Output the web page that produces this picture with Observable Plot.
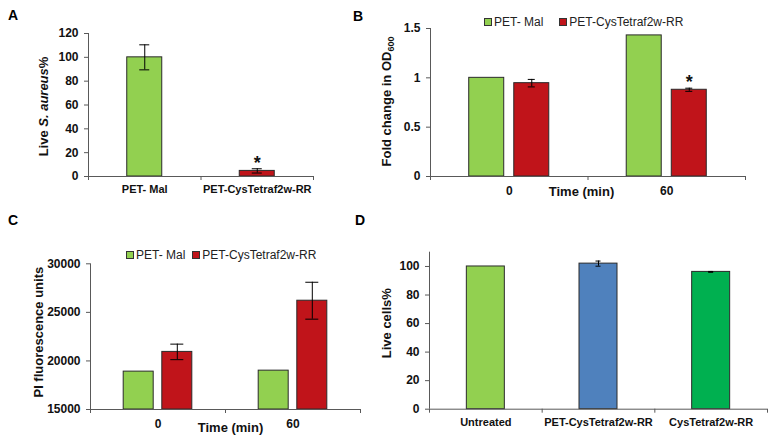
<!DOCTYPE html>
<html><head><meta charset="utf-8">
<script src="https://cdn.jsdelivr.net/npm/d3@7"></script>
<script src="https://cdn.jsdelivr.net/npm/@observablehq/plot@0.6"></script>
<style>
body{margin:0;background:#fff;font-family:"Liberation Sans",Arial,sans-serif;}
#root{position:relative;width:774px;height:446px;overflow:hidden;background:#fff;}
.letter{position:absolute;font-weight:bold;font-size:14px;line-height:14px;}
.legend{position:absolute;font-size:12px;line-height:14px;height:14px;display:flex;align-items:center;white-space:nowrap;color:#222;}
.sw{display:inline-block;width:6px;height:6px;border:1px solid #333;margin-right:2px;}
</style></head><body><div id="root"></div>
<script>
// ---- Panel A data ----
const aCategories = ["PET- Mal", "PET-CysTetraf2w-RR"];
const aValues = [100, 4.7];
const aErrors = [10.5, 1.8];
const aColors = ["#92d050", "#c0141a"];
const aSignificant = [false, true];
const aTicks = [0, 20, 40, 60, 80, 100, 120];

// ---- Shared series (panels B, C) ----
const seriesNames = ["PET- Mal", "PET-CysTetraf2w-RR"];
const seriesColors = ["#92d050", "#c0141a"];
const timeLabels = ["0", "60"];

// ---- Panel B data ----
const bMal = [1.0, 1.43];
const bMalErr = [0, 0];
const bCys = [0.946, 0.879];
const bCysErr = [0.038, 0.016];
const bSignificant = [false, true];
const bTicks = [0, 0.5, 1, 1.5];

// ---- Panel C data ----
const cMal = [18900, 19000];
const cMalErr = [0, 0];
const cCys = [20930, 26200];
const cCysErr = [800, 1900];
const cTicks = [15000, 20000, 25000, 30000];

// ---- Panel D data ----
const dCategories = ["Untreated", "PET-CysTetraf2w-RR", "CysTetraf2w-RR"];
const dValues = [100, 102, 96.2];
const dErrors = [0, 1.8, 0.3];
const dColors = ["#92d050", "#4f81bd", "#00b050"];
const dTicks = [0, 20, 40, 60, 80, 100];

const root = document.getElementById("root");
const AXIS = "#595959";
const OUTLINE = "#2a2a2a";
const baseStyle = {fontFamily: '"Liberation Sans", Arial, sans-serif', fontWeight: "bold", fontSize: "12px", background: "transparent", overflow: "visible", color: "#111"};

function barPanel(cfg) {
  const unit = (cfg.w - cfg.mL - cfg.mR) / cfg.n;
  const bw = cfg.barPx / unit, cap = cfg.capPx / 2 / unit;
  const y0 = cfg.yDomain[0];
  const rows = cfg.rows;
  const errRows = rows.filter(d => d.e > 0);
  const marks = [
    Plot.rectY(rows, {x1: d => d.xc - bw / 2, x2: d => d.xc + bw / 2, y1: () => y0, y2: "v", fill: "color", stroke: OUTLINE, strokeWidth: 1}),
    Plot.ruleX(errRows, {x: "xc", y1: d => d.v - d.e, y2: d => d.v + d.e, stroke: "#000"}),
    Plot.ruleY(errRows, {y: d => d.v - d.e, x1: d => d.xc - cap, x2: d => d.xc + cap, stroke: "#000"}),
    Plot.ruleY(errRows, {y: d => d.v + d.e, x1: d => d.xc - cap, x2: d => d.xc + cap, stroke: "#000"}),
    Plot.text(rows.filter(d => d.sig), {x: "xc", y: d => d.v + d.e, text: () => "*", fontSize: 18, dy: -6}),
    Plot.ruleX([0], {stroke: AXIS}),
    Plot.ruleY([y0], {stroke: AXIS}),
    Plot.axisY({ticks: cfg.yTicks, tickSize: 4, tickPadding: 6, stroke: AXIS, tickFormat: d => String(d), label: null}),
    Plot.axisX({ticks: d3.range(0, cfg.n + 1), tickSize: 4, tickFormat: () => "", stroke: AXIS, label: null}),
    Plot.axisX({ticks: cfg.labels.map((_, i) => i + 0.5), tickSize: 0, tickPadding: cfg.labelPad, fontSize: cfg.labelFont, tickFormat: v => cfg.labels[Math.round(v - 0.5)], label: null}),
    Plot.text([cfg.yLabel], {frameAnchor: "left", textAnchor: "middle", rotate: -90, dx: cfg.yLabelDx, dy: cfg.yLabelDy, fontSize: 13})
  ];
  if (cfg.xTitle) marks.push(Plot.text([cfg.xTitle], {frameAnchor: "bottom", dx: cfg.xTitleDx, dy: cfg.xTitleDy, fontSize: 13}));
  const svg = Plot.plot({
    width: cfg.w, height: cfg.h,
    marginLeft: cfg.mL, marginRight: cfg.mR, marginTop: cfg.mT, marginBottom: cfg.mB,
    style: baseStyle,
    x: {domain: [0, cfg.n], label: null},
    y: {domain: cfg.yDomain, label: null},
    color: {type: "identity"},
    marks
  });
  svg.style.position = "absolute";
  svg.style.left = cfg.left + "px";
  svg.style.top = cfg.top + "px";
  root.appendChild(svg);
  return svg;
}

function groupedRows(mal, malErr, cys, cysErr, sig) {
  return timeLabels.flatMap((t, g) => [
    {g, xc: g + 0.5 - 0.143, v: mal[g], e: malErr[g], color: seriesColors[0], sig: false},
    {g, xc: g + 0.5 + 0.143, v: cys[g], e: cysErr[g], color: seriesColors[1], sig: sig ? sig[g] : false}
  ]);
}

// Panel A
const svgA = barPanel({
  left: 0, top: 0, w: 370, h: 220, mL: 88, mR: 57, mT: 33, mB: 44,
  n: aCategories.length,
  rows: aCategories.map((c, i) => ({xc: i + 0.5, v: aValues[i], e: aErrors[i], color: aColors[i], sig: aSignificant[i]})),
  yDomain: [0, 120], yTicks: aTicks, barPx: 35, capPx: 10,
  labels: aCategories, labelPad: 9, labelFont: 11,
  yLabel: "Live S. aureus%", yLabelDx: -45, yLabelDy: 1.5
});

// Panel B
const svgB = barPanel({
  left: 370, top: 0, w: 404, h: 220, mL: 60, mR: 29, mT: 28, mB: 44,
  n: timeLabels.length,
  rows: groupedRows(bMal, bMalErr, bCys, bCysErr, bSignificant),
  yDomain: [0, 1.5], yTicks: bTicks, barPx: 35, capPx: 7,
  labels: timeLabels, labelPad: 10, labelFont: 12,
  yLabel: "Fold change in OD600", yLabelDx: -43.3, yLabelDy: -1,
  xTitle: "Time (min)", xTitleDx: -6.5, xTitleDy: 19
});

// Panel C
const svgC = barPanel({
  left: 0, top: 220, w: 370, h: 226, mL: 90, mR: 10, mT: 43.3, mB: 37,
  n: timeLabels.length,
  rows: groupedRows(cMal, cMalErr, cCys, cCysErr, null),
  yDomain: [15000, 30000], yTicks: cTicks, barPx: 30, capPx: 13,
  labels: timeLabels, labelPad: 10, labelFont: 12,
  yLabel: "PI fluorescence units", yLabelDx: -52, yLabelDy: -4.5,
  xTitle: "Time (min)", xTitleDx: 5, xTitleDy: 22
});

// Panel D
const svgD = barPanel({
  left: 370, top: 220, w: 404, h: 226, mL: 59, mR: 7, mT: 31.7, mB: 37.3,
  n: dCategories.length,
  rows: dCategories.map((c, i) => ({xc: i + 0.5, v: dValues[i], e: dErrors[i], color: dColors[i], sig: false})),
  yDomain: [0, 110], yTicks: dTicks, barPx: 38, capPx: 5,
  labels: dCategories, labelPad: 9, labelFont: 11,
  yLabel: "Live cells%", yLabelDx: -42.3, yLabelDy: -7.5
});

// rich text for axis titles
function rich(svg, label, parts) {
  d3.select(svg).selectAll("text").filter(function () { return this.textContent === label; }).each(function () {
    const t = d3.select(this);
    t.text(null);
    for (const p of parts) {
      const s = t.append("tspan").text(p.t);
      if (p.italic) s.attr("font-style", "italic");
      if (p.sub) s.attr("font-size", 9).attr("dy", "0.3em");
    }
  });
}
rich(svgA, "Live S. aureus%", [{t: "Live "}, {t: "S. aureus", italic: true}, {t: "%"}]);
rich(svgB, "Fold change in OD600", [{t: "Fold change in OD"}, {t: "600", sub: true}]);

// panel letters
[["A", 8, 8], ["B", 353, 9], ["C", 8, 213], ["D", 355, 213]].forEach(([t, x, y]) => {
  const el = document.createElement("div");
  el.className = "letter"; el.textContent = t;
  el.style.left = x + "px"; el.style.top = y + "px";
  root.appendChild(el);
});

// legends
function legend(left, top, gap) {
  const el = document.createElement("div");
  el.className = "legend";
  el.style.left = left + "px"; el.style.top = top + "px";
  seriesNames.forEach((name, i) => {
    const sw = document.createElement("span");
    sw.className = "sw"; sw.style.background = seriesColors[i];
    if (i > 0) sw.style.marginLeft = gap + "px";
    const tx = document.createElement("span");
    tx.textContent = name;
    el.appendChild(sw); el.appendChild(tx);
  });
  root.appendChild(el);
}
legend(484, 15, 16);
legend(126, 247.5, 7);
</script>
</body></html>
